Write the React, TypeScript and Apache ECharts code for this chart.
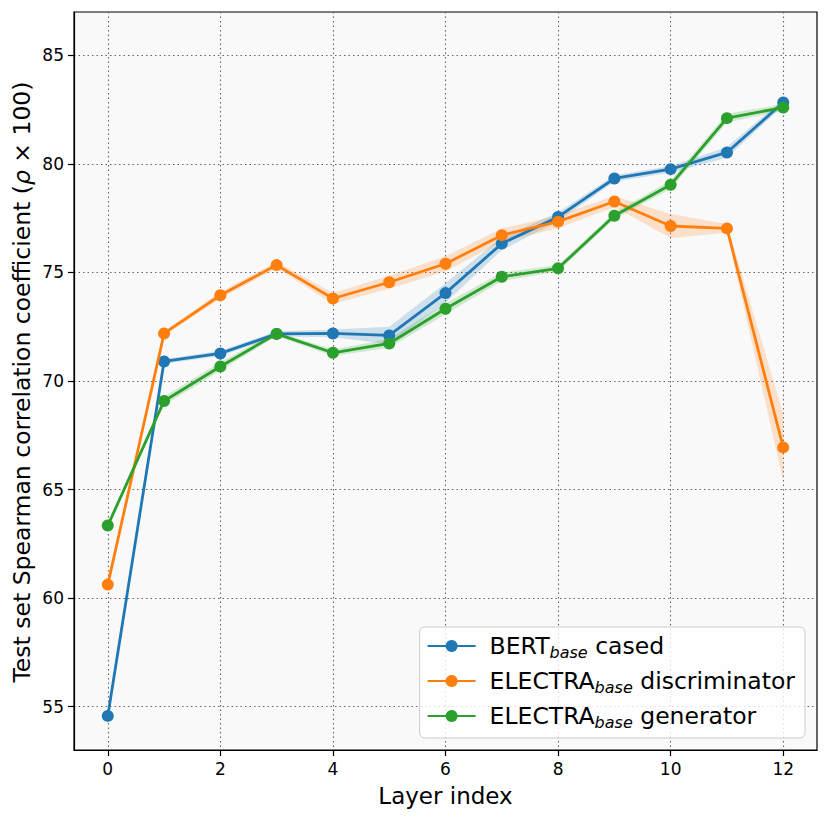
import React, { useEffect, useRef } from "react";
import * as echarts from "echarts";

const layers = [0, 1, 2, 3, 4, 5, 6, 7, 8, 9, 10, 11, 12];
const xTicks = [0, 2, 4, 6, 8, 10, 12];
const yTicks = [55, 60, 65, 70, 75, 80, 85];

const bertMean = [54.57, 70.9, 71.27, 72.17, 72.19, 72.1, 74.05, 76.33, 77.56, 79.33, 79.76, 80.53, 82.83];
const bertStd = [0.1, 0.1, 0.12, 0.12, 0.18, 0.4, 0.45, 0.3, 0.2, 0.15, 0.15, 0.25, 0.15];
const discMean = [60.62, 72.19, 73.95, 75.34, 73.8, 74.55, 75.4, 76.72, 77.34, 78.27, 77.14, 77.03, 66.94];
const discStd = [0.1, 0.1, 0.15, 0.15, 0.25, 0.3, 0.35, 0.3, 0.3, 0.25, 0.55, 0.2, 1.55];
const genMean = [63.34, 69.08, 70.67, 72.17, 71.3, 71.73, 73.33, 74.8, 75.19, 77.61, 79.04, 82.11, 82.6];
const genStd = [0.1, 0.2, 0.2, 0.1, 0.15, 0.2, 0.25, 0.2, 0.15, 0.15, 0.2, 0.2, 0.15];

const colors = ["#1f77b4", "#ff7f0e", "#2ca02c"];
const FONT = "DejaVu Sans";

type S = { name: string; mean: number[]; std: number[]; label: string[] };
const seriesDefs: S[] = [
  { name: "BERT", mean: bertMean, std: bertStd, label: ["BERT", "base", " cased"] },
  { name: "DISC", mean: discMean, std: discStd, label: ["ELECTRA", "base", " discriminator"] },
  { name: "GEN", mean: genMean, std: genStd, label: ["ELECTRA", "base", " generator"] },
];

export default function App() {
  const ref = useRef<HTMLDivElement>(null);
  useEffect(() => {
    document.body.style.margin = "0";
    const chart = echarts.init(ref.current!, null, { renderer: "svg" });
    const series: any[] = [];
    seriesDefs.forEach((s, i) => {
      series.push({
        type: "custom",
        name: s.name + "_band",
        data: [[layers[0], s.mean[0]]],
        silent: true,
        z: 1,
        renderItem: (_p: any, api: any) => {
          const up = s.mean.map((m, j) => api.coord([layers[j], m + s.std[j]]));
          const dn = s.mean.map((m, j) => api.coord([layers[j], m - s.std[j]])).reverse();
          return {
            type: "polygon",
            shape: { points: up.concat(dn) },
            style: { fill: colors[i], opacity: 0.2 },
          };
        },
      });
    });
    seriesDefs.forEach((s, i) => {
      series.push({
        type: "line",
        name: s.name,
        data: s.mean.map((m, j) => [layers[j], m]),
        symbol: "circle",
        symbolSize: 12,
        showSymbol: true,
        lineStyle: { color: colors[i], width: 2.8 },
        itemStyle: { color: colors[i] },
        z: 3 + i,
      });
    });

    const labelMap: Record<string, string[]> = {};
    seriesDefs.forEach((s) => (labelMap[s.name] = s.label));

    chart.setOption({
      animation: false,
      grid: {
        left: 74,
        top: 12,
        right: 13,
        bottom: 69,
        show: true,
        backgroundColor: "#f9f9f9",
        borderColor: "#000",
        borderWidth: 1.2,
      },
      xAxis: {
        type: "value",
        min: -0.6,
        max: 12.6,
        name: "Layer index",
        nameLocation: "middle",
        nameGap: 34,
        nameTextStyle: { fontFamily: FONT, fontSize: 23, color: "#000" },
        axisLine: { show: true, onZero: false, lineStyle: { color: "#000", width: 1.2 } },
        axisTick: { show: true, length: 6, customValues: xTicks, lineStyle: { color: "#000", width: 1.2 } },
        axisLabel: { customValues: xTicks, fontFamily: FONT, fontSize: 17, color: "#000", margin: 10 },
        splitLine: { show: true, lineStyle: { color: "#666", type: [1.5, 3], width: 1.1 } },
      },
      yAxis: {
        type: "value",
        min: 53,
        max: 87,
        axisLine: { show: true, onZero: false, lineStyle: { color: "#000", width: 1.2 } },
        axisTick: { show: true, length: 6, customValues: yTicks, lineStyle: { color: "#000", width: 1.2 } },
        axisLabel: { customValues: yTicks, fontFamily: FONT, fontSize: 17, color: "#000", margin: 10 },
        splitLine: { show: true, lineStyle: { color: "#666", type: [1.5, 3], width: 1.1 } },
      },
      legend: {
        data: seriesDefs.map((s) => s.name),
        orient: "vertical",
        right: 25,
        bottom: 81,
        itemWidth: 48,
        itemHeight: 15,
        itemGap: 9,
        padding: [7, 10, 8, 7],
        backgroundColor: "rgba(255,255,255,0.8)",
        borderColor: "#cccccc",
        borderWidth: 1,
        borderRadius: 5,
        formatter: (name: string) => {
          const l = labelMap[name];
          return `{g| }{n|${l[0]}}{s|${l[1]}}{n|${l[2]}}`;
        },
        textStyle: {
          fontFamily: FONT,
          fontSize: 23,
          color: "#000",
          rich: {
            g: { width: 9, fontSize: 23, lineHeight: 28 },
            n: { fontFamily: FONT, fontSize: 23.5, color: "#000", lineHeight: 28 },
            s: { fontFamily: FONT, fontSize: 16, fontStyle: "italic", color: "#000", lineHeight: 16, verticalAlign: "bottom" },
          },
        },
      },
      graphic: [
        {
          type: "text",
          x: 22,
          y: 382,
          rotation: Math.PI / 2,
          style: {
            text: "{a|Test set Spearman correlation coefficient (}{i|ρ}{a| × 100)}",
            align: "center",
            verticalAlign: "middle",
            rich: {
              a: { fontFamily: FONT, fontSize: 23.5, fill: "#000" },
              i: { fontFamily: FONT, fontSize: 23.5, fontStyle: "italic", fill: "#000" },
            },
          },
        },
      ],
      series,
    });
    return () => chart.dispose();
  }, []);
  return <div ref={ref} style={{ width: 830, height: 819 }} />;
}
